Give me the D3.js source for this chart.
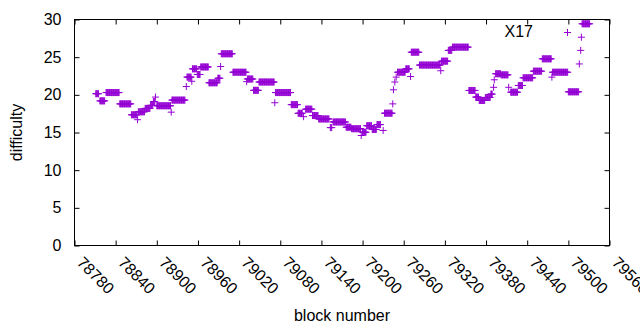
<!DOCTYPE html>
<html>
<head>
<meta charset="utf-8">
<script src="https://cdn.jsdelivr.net/npm/d3@7"></script>
<style>
  body { margin: 0; background: #fff; }
  svg text { font-family: "Liberation Sans", Arial, sans-serif; font-size: 16px; fill: #000; }
</style>
</head>
<body>
<div id="chart"></div>
<script>
// runs of blocks that share one difficulty value
const runStart = [78811, 78817, 78826, 78846, 78863, 78872, 78873, 78883, 78891, 78895,
  78898, 78900, 78921, 78922, 78943, 78944, 78951, 78952, 78959, 78964,
  78976, 78989, 78993, 78994, 79011, 79031, 79032, 79041, 79049, 79072,
  79073, 79096, 79106, 79114, 79117, 79127, 79136, 79153, 79157, 79176,
  79184, 79198, 79200, 79206, 79214, 79221, 79230, 79232, 79244, 79245,
  79247, 79249, 79251, 79263, 79270, 79271, 79283, 79314, 79315, 79325,
  79331, 79355, 79365, 79370, 79379, 79387, 79391, 79392, 79394, 79402,
  79413, 79416, 79427, 79434, 79449, 79462, 79476, 79477, 79500, 79516,
  79518, 79519, 79520];
const runEnd = [78815, 78824, 78845, 78862, 78871, 78872, 78882, 78890, 78894, 78897,
  78898, 78920, 78921, 78941, 78943, 78950, 78951, 78958, 78963, 78975,
  78988, 78992, 78993, 79010, 79030, 79031, 79040, 79048, 79071, 79072,
  79095, 79105, 79112, 79114, 79126, 79135, 79151, 79155, 79175, 79183,
  79197, 79198, 79205, 79213, 79220, 79226, 79230, 79243, 79244, 79245,
  79247, 79249, 79262, 79268, 79270, 79282, 79313, 79314, 79324, 79330,
  79354, 79364, 79369, 79378, 79386, 79389, 79391, 79392, 79401, 79412,
  79413, 79426, 79433, 79448, 79461, 79475, 79476, 79499, 79515, 79516,
  79518, 79519, 79531];
const difficulty = [20.15, 19.2, 20.3, 18.8, 17.35, 16.7, 17.75, 18.2, 18.6, 19.1,
  19.7, 18.55, 17.7, 19.3, 21.1, 22.35, 21.8, 23.45, 22.7, 23.7,
  21.6, 22.2, 23.76, 25.45, 23.0, 21.75, 22.1, 20.6, 21.7, 18.95,
  20.3, 18.7, 17.55, 17.1, 18.1, 17.25, 16.8, 15.65, 16.4, 15.7,
  15.5, 14.6, 15.04, 15.9, 15.4, 16.05, 15.27, 17.56, 18.8, 20.67,
  21.7, 22.35, 23.0, 23.45, 22.43, 25.66, 23.95, 23.2, 24.47, 25.9,
  26.33, 20.58, 19.7, 19.25, 19.65, 20.1, 21.0, 22.0, 22.8, 22.65,
  21.0, 20.35, 21.24, 22.26, 23.14, 24.78, 22.35, 23.0, 20.4, 24.1,
  25.9, 27.65, 29.43];

const xTicks = [78780, 78840, 78900, 78960, 79020, 79080, 79140, 79200, 79260, 79320, 79380, 79440, 79500, 79560];
const yTicks = [0, 5, 10, 15, 20, 25, 30];
const seriesName = "X17";

const width = 640, height = 330;
const margin = { top: 19.5, right: 30.5, bottom: 84.5, left: 74.5 };
const color = "#9400d3";

const svg = d3.select("#chart").append("svg")
  .attr("width", width)
  .attr("height", height);

svg.append("rect").attr("width", width).attr("height", height).attr("fill", "#fff");

const x = d3.scaleLinear()
  .domain([78780, 79560])
  .range([margin.left, width - margin.right]);

const y = d3.scaleLinear()
  .domain([0, 30])
  .range([height - margin.bottom, margin.top]);

const points = runStart.flatMap((s, i) =>
  d3.range(s, runEnd[i] + 1).map(b => ({ block: b, diff: difficulty[i] })));

// axes: ticks point inward, mirrored on top and right
const tick = 5;
const yAxis = svg.append("g")
  .attr("transform", `translate(${margin.left},0)`)
  .call(d3.axisLeft(y).tickValues(yTicks).tickSizeInner(-tick).tickSizeOuter(0).tickPadding(13));
yAxis.select(".domain").remove();

svg.append("g")
  .attr("transform", `translate(${width - margin.right},0)`)
  .call(d3.axisRight(y).tickValues(yTicks).tickSizeInner(-tick).tickSizeOuter(0).tickFormat(""))
  .select(".domain").remove();

const xAxis = svg.append("g")
  .attr("transform", `translate(0,${height - margin.bottom})`)
  .call(d3.axisBottom(x).tickValues(xTicks).tickSizeInner(-tick).tickSizeOuter(0).tickFormat(d3.format("d")));
xAxis.select(".domain").remove();
xAxis.selectAll("text")
  .attr("y", 0)
  .attr("dy", 0)
  .attr("text-anchor", "start")
  .attr("transform", "translate(1,18) rotate(45)");

svg.append("g")
  .attr("transform", `translate(0,${margin.top})`)
  .call(d3.axisTop(x).tickValues(xTicks).tickSizeInner(-tick).tickSizeOuter(0).tickFormat(""))
  .select(".domain").remove();

svg.selectAll(".tick line").attr("stroke", "#000");
svg.selectAll(".tick text").style("font-size", "16px").attr("fill", "#000");

svg.append("rect")
  .attr("x", margin.left)
  .attr("y", margin.top)
  .attr("width", width - margin.right - margin.left)
  .attr("height", height - margin.bottom - margin.top)
  .attr("fill", "none")
  .attr("stroke", "#000");

const plus = (px, py) => `M${px - 3.5},${py}h7M${px},${py - 3.5}v7`;

svg.append("path")
  .attr("fill", "none")
  .attr("stroke", color)
  .attr("stroke-width", 1)
  .attr("d", points.map(d => plus(x(d.block), y(d.diff))).join(""));

// key
svg.append("text")
  .attr("x", 533)
  .attr("y", 37)
  .attr("text-anchor", "end")
  .text(seriesName);
svg.append("path")
  .attr("fill", "none")
  .attr("stroke", color)
  .attr("d", plus(567.5, 32.5));

// axis titles
svg.append("text")
  .attr("transform", `translate(22,${(margin.top + height - margin.bottom) / 2}) rotate(-90)`)
  .attr("text-anchor", "middle")
  .text("difficulty");

svg.append("text")
  .attr("x", (margin.left + width - margin.right) / 2)
  .attr("y", 321)
  .attr("text-anchor", "middle")
  .text("block number");
</script>
</body>
</html>
